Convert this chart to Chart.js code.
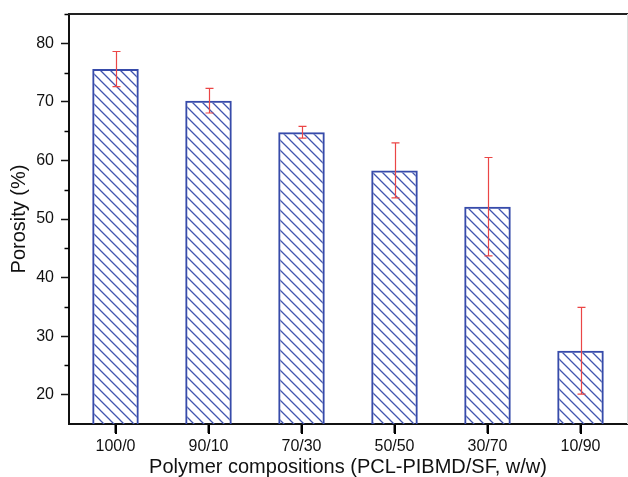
<!DOCTYPE html>
<html>
<head>
<meta charset="utf-8">
<script src="https://cdn.jsdelivr.net/npm/chart.js@4/dist/chart.umd.min.js"></script>
<style>
  html, body { margin: 0; padding: 0; background: #fff; }
  #wrap { width: 628px; height: 477px; }
</style>
</head>
<body>
<div id="wrap"><canvas id="porosityChart" width="628" height="477"></canvas></div>
<script>
// data
const compositions = ['100/0', '90/10', '70/30', '50/50', '30/70', '10/90'];
const porosity = [75.6, 70.2, 64.8, 58.3, 52.1, 27.5];
const porosityErr = [3.0, 2.1, 1.0, 4.7, 8.4, 7.4];
const yTicks = [20, 30, 40, 50, 60, 70, 80];

const blue = 'rgb(55, 75, 170)';
const red = 'rgb(235, 70, 70)';

// diagonal hatch "\\\"
function makeHatch() {
    const s = 10;
    const c = document.createElement('canvas');
    c.width = s; c.height = s;
    const g = c.getContext('2d');
    g.strokeStyle = 'rgb(65, 85, 175)';
    g.lineWidth = 1.3;
    g.beginPath();
    g.moveTo(-1, -1); g.lineTo(s + 1, s + 1);
    g.moveTo(s - 1, -1); g.lineTo(s + 1, 1);
    g.moveTo(-1, s - 1); g.lineTo(1, s + 1);
    g.stroke();
    return g.createPattern(c, 'repeat');
}

// error bars, placed from the bar elements and the y scale
const errorBars = {
    id: 'errorBars',
    afterDatasetsDraw(chart) {
        const ctx = chart.ctx;
        const y = chart.scales.y;
        const meta = chart.getDatasetMeta(0);
        ctx.save();
        ctx.strokeStyle = red;
        ctx.lineWidth = 1.2;
        meta.data.forEach((bar, i) => {
            const top = y.getPixelForValue(porosity[i] + porosityErr[i]);
            const bot = y.getPixelForValue(porosity[i] - porosityErr[i]);
            const x = Math.round(bar.x) + 0.5;
            ctx.beginPath();
            ctx.moveTo(x, top); ctx.lineTo(x, bot);
            ctx.moveTo(x - 4, top); ctx.lineTo(x + 4, top);
            ctx.moveTo(x - 4, bot); ctx.lineTo(x + 4, bot);
            ctx.stroke();
        });
        ctx.restore();
    }
};

// x ticks, minor y ticks, box frame
const frame = {
    id: 'frame',
    afterDraw(chart) {
        const ctx = chart.ctx;
        const a = chart.chartArea;
        const x = chart.scales.x;
        const y = chart.scales.y;
        ctx.save();
        ctx.strokeStyle = 'black';
        ctx.lineWidth = 2;
        for (let i = 0; i < compositions.length; i++) {
            const px = Math.round(x.getPixelForValue(i));
            ctx.beginPath();
            ctx.moveTo(px, x.top + 1);
            ctx.lineTo(px, x.top + 10);
            ctx.stroke();
        }
        ctx.lineWidth = 1.5;
        for (let v = 25; v <= 85; v += 10) {
            const py = Math.round(y.getPixelForValue(v)) + 0.5;
            ctx.beginPath();
            ctx.moveTo(a.left - 4.5, py); ctx.lineTo(a.left, py);
            ctx.stroke();
        }
        ctx.lineWidth = 2;
        ctx.strokeStyle = '#222';
        ctx.beginPath();
        ctx.moveTo(a.left - 1, a.top); ctx.lineTo(a.right + 1, a.top);
        ctx.stroke();
        ctx.strokeStyle = '#ddd';
        ctx.lineWidth = 1;
        ctx.beginPath();
        ctx.moveTo(a.right + 0.5, a.top); ctx.lineTo(a.right + 0.5, a.bottom);
        ctx.stroke();
        ctx.restore();
    }
};

const ctx = document.getElementById('porosityChart').getContext('2d');
Chart.defaults.font.family = '"Liberation Sans", Arial, sans-serif';
Chart.defaults.color = '#111';

new Chart(ctx, {
    type: 'bar',
    data: {
        labels: compositions,
        datasets: [{
            label: 'Porosity',
            data: porosity,
            backgroundColor: makeHatch(),
            borderColor: blue,
            borderWidth: 2,
            borderSkipped: 'start',
            barPercentage: 0.5,
            categoryPercentage: 1.0
        }]
    },
    options: {
        responsive: false,
        animation: false,
        layout: { padding: { top: 14, right: 1, left: 0, bottom: 0 } },
        plugins: {
            legend: { display: false },
            tooltip: { enabled: false }
        },
        scales: {
            x: {
                afterFit: s => { s.height = 53; s.paddingLeft = 0; s.paddingRight = 0; },
                grid: { display: true, offset: false, drawOnChartArea: false, tickLength: 9, tickWidth: 2, tickColor: 'black' },
                border: { display: true, color: '#111', width: 2 },
                ticks: { font: { size: 16 }, padding: 4, maxRotation: 0 },
                title: {
                    display: true,
                    text: 'Polymer compositions (PCL-PIBMD/SF, w/w)',
                    font: { size: 20, lineHeight: 1 },
                    padding: { top: 0, bottom: 0 }
                }
            },
            y: {
                min: 15,
                max: 85,
                afterFit: s => { s.width = 69; s.paddingTop = 0; s.paddingBottom = 0; },
                afterBuildTicks: s => { s.ticks = yTicks.map(v => ({ value: v })); },
                grid: { display: true, drawOnChartArea: false, tickLength: 8, tickWidth: 1.5, tickColor: '#111' },
                border: { display: true, color: '#111', width: 2 },
                ticks: { font: { size: 16 }, padding: 7 },
                title: {
                    display: true,
                    text: 'Porosity (%)',
                    font: { size: 20, lineHeight: 1 },
                    padding: { top: 9, bottom: 0 }
                }
            }
        }
    },
    plugins: [errorBars, frame]
});
</script>
</body>
</html>
